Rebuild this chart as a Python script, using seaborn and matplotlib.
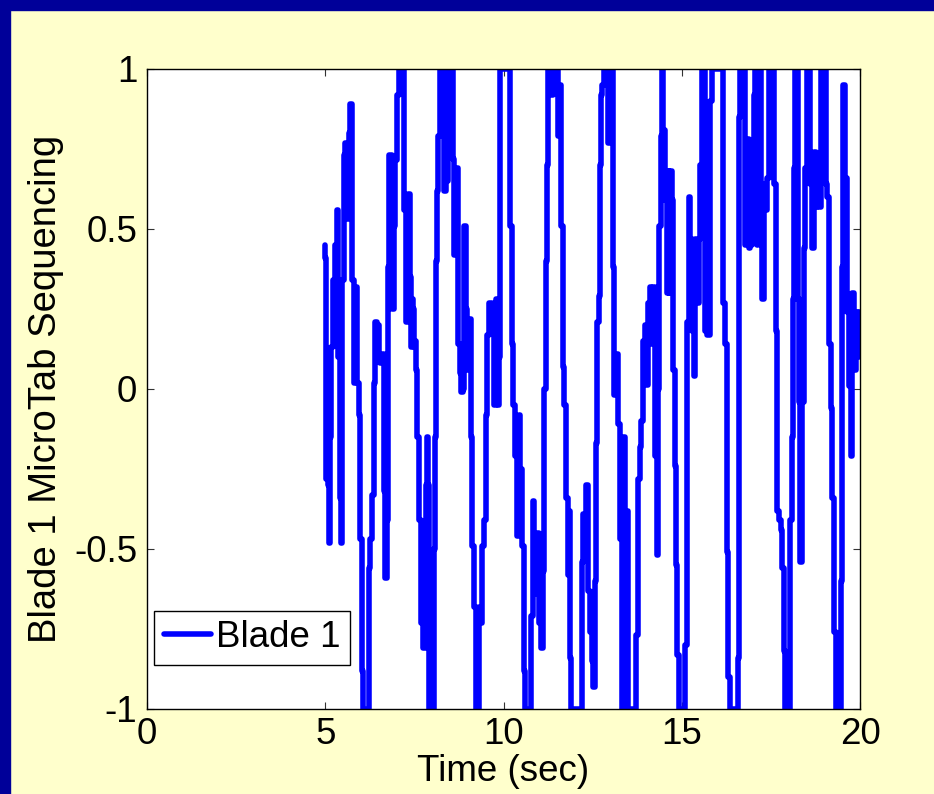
import matplotlib
matplotlib.use("Agg")
import matplotlib.pyplot as plt
import seaborn as sns
import pandas as pd
from matplotlib.patches import Rectangle

# ---- data ----
time_sec = [
    5.00, 5.01, 5.02, 5.04, 5.07, 5.10, 5.12, 5.15, 5.19, 5.22, 5.26, 5.30, 5.35, 5.38, 5.42, 5.47,
    5.49, 5.54, 5.59, 5.63, 5.68, 5.73, 5.775, 5.82, 5.87, 5.915, 5.96, 6.01, 6.05, 6.08, 6.20, 6.24,
    6.29, 6.34, 6.38, 6.43, 6.48, 6.52, 6.57, 6.62, 6.66, 6.71, 6.76, 6.78, 6.82, 6.90, 6.94, 6.99,
    7.04, 7.08, 7.18, 7.22, 7.29, 7.36,
    7.40, 7.42, 7.45, 7.47, 7.50, 7.52, 7.56, 7.61, 7.66, 7.70, 7.73, 7.75, 7.80, 7.83, 7.87, 7.90,
    7.93, 8.03, 8.06, 8.08, 8.13, 8.15, 8.20, 8.25, 8.31, 8.36, 8.41, 8.45, 8.55, 8.60, 8.64, 8.71,
    8.76, 8.80, 8.83, 8.87, 8.92, 8.97, 9.01, 9.06, 9.11, 9.15, 9.20, 9.23, 9.29, 9.34, 9.39, 9.43,
    9.48, 9.53, 9.57, 9.62, 9.65, 9.71, 9.76,
    9.80, 9.84, 9.86, 9.88, 9.90, 9.93, 10.17, 10.20, 10.26, 10.30, 10.35, 10.40, 10.45, 10.49,
    10.54, 10.59, 10.63, 10.75, 10.80, 10.83, 10.87, 10.91, 10.95, 11.02, 11.08, 11.13, 11.16,
    11.20, 11.24, 11.28, 11.33, 11.36, 11.40, 11.52, 11.55, 11.59, 11.63, 11.68, 11.73, 11.78,
    11.82, 11.85, 11.87, 11.91, 12.12,
    12.20, 12.22, 12.26, 12.30, 12.35, 12.40, 12.45, 12.49, 12.54, 12.57, 12.60, 12.65, 12.70,
    12.73, 12.75, 12.79, 12.84, 12.92, 12.96, 13.01, 13.05, 13.07, 13.13, 13.19, 13.24, 13.29,
    13.33, 13.38, 13.43, 13.47, 13.52, 13.71, 13.75, 13.80, 13.83, 13.89, 13.94, 13.99, 14.03,
    14.08, 14.13, 14.17, 14.22, 14.27, 14.32, 14.36, 14.39, 14.44, 14.46, 14.50, 14.55, 14.60,
    14.62,
    14.66, 14.70, 14.74, 14.78, 14.82, 14.86, 14.90, 14.93, 15.07, 15.14, 15.17, 15.21, 15.26,
    15.31, 15.35, 15.40, 15.45, 15.49, 15.54, 15.59, 15.63, 15.68, 15.73, 15.77, 15.82, 15.87,
    16.15, 16.19, 16.24, 16.29, 16.33, 16.38, 16.55, 16.59, 16.62, 16.66, 16.76, 16.78, 16.85,
    16.90, 16.94, 16.99, 17.04, 17.08,
    17.10, 17.12, 17.14, 17.19, 17.23, 17.28, 17.33, 17.37, 17.42, 17.47, 17.55, 17.61, 17.65,
    17.70, 17.75, 17.79, 17.84, 17.89, 17.93, 18.03, 18.07, 18.12, 18.14, 18.17, 18.21, 18.24,
    18.26, 18.31, 18.35, 18.40, 18.45, 18.49, 18.54, 18.59, 18.63, 18.68, 18.73, 18.78, 18.82,
    18.87, 18.92, 19.01, 19.06, 19.10, 19.15, 19.20, 19.24, 19.29, 19.34, 19.43, 19.48, 19.50,
    19.54, 19.62, 19.66, 19.71, 19.76, 19.80, 19.85, 19.90, 19.94, 19.99,
]
blade1_seq = [
    0.45, 0.41, 0.14, -0.28, -0.20, -0.30, -0.48, -0.15, 0.13, 0.34, 0.20, 0.45, 0.56, 0.10, -0.34, -0.48,
    0.34, 0.73, 0.77, 0.53, 0.80, 0.89, 0.34, 0.02, 0.32, 0.02, -0.08, -0.47, -0.88, -1.0, -1.0, -0.56,
    -0.47, -0.33, 0.02, 0.21, 0.20, 0.11, 0.08, 0.11, -0.32, -0.59, -0.41, 0.38, 0.73, 0.25, 0.51, 0.715,
    0.92, 1.0, 1.0, 0.56, 0.21, 0.61,
    0.35, 0.13, 0.28, 0.25, 0.13, 0.15, 0.06, -0.15, -0.41, -0.73, -0.55, -0.81, -0.81, -0.30, -0.15, -0.30,
    -1.0, -1.0, -0.50, -0.15, 0.40, 0.62, 0.79, 1.0, 1.0, 0.62, 0.65, 1.0, 1.0, 0.72, 0.42, 0.69,
    0.14, 0.05, -0.01, 0.00, 0.51, 0.25, 0.06, 0.22, -0.15, -0.49, -0.68, -1.0, -1.0, -0.68, -0.73, -0.49,
    -0.41, -0.08, 0.17, 0.27, 0.27, 0.20, -0.05,
    0.28, 0.10, -0.05, 0.10, 0.28, 1.0, 1.0, 0.51, 0.14, -0.05, -0.21, -0.46, -0.08, -0.25,
    -0.49, -0.88, -1.0, -1.0, -0.71, -0.35, -0.50, -0.64, -0.45, -0.73, -0.81, -0.57, 0.00,
    0.40, 0.70, 1.0, 1.0, 0.92, 1.0, 1.0, 0.79, 0.95, 0.51, 0.07, -0.05, -0.34,
    -0.58, -0.38, -0.84, -1.0, -1.0,
    -1.0, -0.54, -0.39, -0.45, -0.30, -0.63, -0.76, -0.85, -0.93, -0.60, -0.17, 0.21, 0.29,
    0.70, 0.92, 0.95, 1.0, 1.0, 0.77, 1.0, 1.0, 0.38, -0.02, 0.11, -0.11, -0.47,
    -1.0, -0.15, -1.0, -0.38, -1.0, -1.0, -0.77, -0.28, -0.18, -0.10, 0.15, 0.20, 0.011,
    0.27, 0.32, 0.14, 0.32, -0.21, -0.52, 0.00, 0.51, 0.79, 1.0, 0.81, 0.59, 0.30,
    0.68,
    0.30, 0.68, 0.59, 0.06, -0.24, -0.55, -0.83, -1.0, -1.0, -0.80, 0.21, 0.60, 0.47,
    0.18, 0.04, 0.47, 0.27, 0.47, 0.70, 1.0, 1.0, 0.18, 0.17, 0.17, 0.90, 1.0,
    1.0, 0.27, 0.14, -0.51, -0.90, -1.0, -1.0, -0.84, 0.85, 1.0, 1.0, 0.45, 0.78,
    0.44, 0.45, 0.70, 0.92, 1.0,
    0.91, 0.45, 1.0, 1.0, 0.64, 0.28, 0.64, 0.56, 0.66, 1.0, 1.0, 0.64, 0.18,
    -0.38, -0.41, -0.44, -0.56, -0.82, -1.0, -1.0, -0.41, -0.15, 0.28, 0.69, 1.0, 1.0,
    0.28, -0.04, -0.54, -0.04, 0.44, 0.69, 1.0, 1.0, 0.64, 0.44, 0.74, 0.57, 0.66,
    0.57, 1.0, 1.0, 0.64, 0.60, 0.14, -0.06, -0.34, -0.76, -1.0, -1.0, -0.60, 0.38,
    0.95, 0.66, 0.24, 0.01, -0.21, 0.30, 0.06, 0.24, 0.10, 0.24,
]
x_ticks = [0, 5, 10, 15, 20]
y_ticks = [-1, -0.5, 0, 0.5, 1]
y_tick_labels = ["-1", "-0.5", "0", "0.5", "1"]
series_name = "Blade 1"

df = pd.DataFrame({"Time (sec)": time_sec, "value": blade1_seq})

sns.set_theme(style="white")
plt.rcParams["font.family"] = ["Liberation Sans", "DejaVu Sans"]

BG = "#FFFFCC"
NAVY = "#000099"
FS = 26.5

fig = plt.figure(figsize=(9.34, 7.94), dpi=100, facecolor=BG)
# navy frame strips (top and left)
fig.patches.append(Rectangle((0, 1 - 10 / 794), 1, 10 / 794, transform=fig.transFigure,
                             color=NAVY, zorder=0))
fig.patches.append(Rectangle((0, 0), 10 / 934, 1, transform=fig.transFigure,
                             color=NAVY, zorder=0))

ax = fig.add_axes([147 / 934, 1 - 709 / 794, (860 - 147) / 934, (709 - 69) / 794])
ax.set_facecolor("white")

sns.lineplot(data=df, x="Time (sec)", y="value", sort=False, estimator=None,
             color="#0000FF", linewidth=4.0, label=series_name, ax=ax,
             drawstyle="steps-mid")

ax.set_xlim(0, 20)
ax.set_ylim(-1, 1)
ax.set_xticks(x_ticks)
ax.set_xticklabels([str(v) for v in x_ticks])
ax.set_yticks(y_ticks)
ax.set_yticklabels(y_tick_labels)

for s in ax.spines.values():
    s.set_visible(True)
    s.set_color("black")
    s.set_linewidth(1.0)

ax.tick_params(axis="both", which="major", direction="in", length=5, width=0.8,
               color="#333333", labelsize=FS, labelcolor="black",
               top=True, right=True, bottom=True, left=True)
ax.tick_params(axis="x", pad=6)
ax.tick_params(axis="y", pad=7)

ax.set_xlabel("Time (sec)", fontsize=FS, color="black", labelpad=1)
ax.set_ylabel("Blade 1 MicroTab Sequencing", fontsize=27.5, color="black", labelpad=7)

leg = ax.legend(loc="lower left", bbox_to_anchor=(0.0, 0.058), fontsize=FS,
                frameon=True, fancybox=False, framealpha=1, edgecolor="black",
                handlelength=1.3, handletextpad=0.12, borderpad=0.25,
                borderaxespad=0.2)
leg.get_frame().set_linewidth(1.0)
for txt in leg.get_texts():
    txt.set_color("black")
for line in leg.get_lines():
    line.set_linewidth(4.0)
    line.set_drawstyle("default")

fig.savefig("out.png", dpi=100, facecolor=BG)
